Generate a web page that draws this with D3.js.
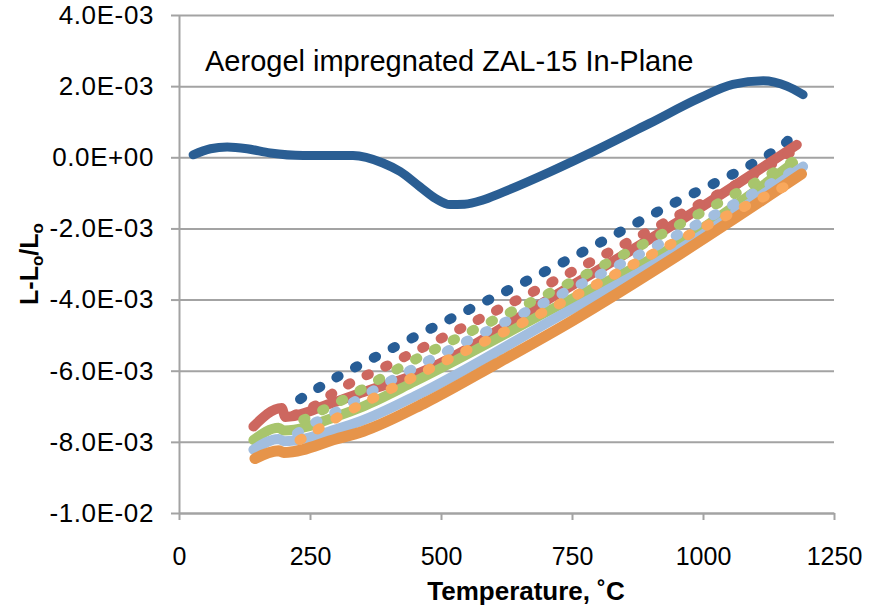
<!DOCTYPE html>
<html>
<head>
<meta charset="utf-8">
<script src="https://cdn.jsdelivr.net/npm/d3@7"></script>
<style>
  body { margin: 0; background: #fff; }
</style>
</head>
<body>
<div id="chart"></div>
<script>
var width = 885;
var height = 611;

// temperature in C, strain (L-Lo)/Lo in units of 1e-3
var firstHeat = [[27, 0.07], [60, 0.24], [92, 0.29], [130, 0.24], [174, 0.12], [237, 0.05], [332, 0.05],
    [389, -0.16], [422, -0.40], [460, -0.83], [490, -1.16], [517, -1.33], [545, -1.32], [580, -1.20],
    [612, -1.02], [708, -0.41], [803, 0.25], [899, 0.96], [994, 1.67], [1057, 2.05], [1115, 2.15],
    [1160, 2.0], [1191, 1.76]];
var blueDotted = [[231, -6.80], [293, -6.25], [399, -5.43], [746, -2.85], [943, -1.30], [1109, -0.06],
    [1144, 0.25], [1160, 0.44], [1186, 0.85]];
var redSolid = [[142, -7.57], [196, -7.05], [203, -7.30], [288, -6.93], [352, -6.60], [447, -6.13],
    [727, -3.80], [943, -1.90], [1179, 0.35]];
var redDotted = [[220, -7.25], [256, -7.01], [294, -6.63], [409, -5.77], [756, -3.17], [953, -1.63],
    [1118, -0.31], [1195, 0.39]];
var greenSolid = [[142, -7.95], [190, -7.60], [200, -7.68], [307, -7.25], [352, -7.00], [450, -6.30],
    [727, -4.15], [956, -2.40], [1172, -0.16]];
var greenDotted = [[237, -7.38], [279, -7.07], [301, -6.91], [412, -5.99], [765, -3.38], [924, -2.14],
    [1201, 0.13]];
var lightSolid = [[142, -8.22], [190, -7.92], [200, -7.98], [300, -7.65], [350, -7.40], [450, -6.72],
    [727, -4.45], [956, -2.58], [1191, -0.26]];
var lightDotted = [[225, -7.76], [244, -7.58], [285, -7.27], [393, -6.37], [737, -3.79], [934, -2.31],
    [1198, -0.17]];
var orangeSolid = [[145, -8.47], [190, -8.25], [200, -8.30], [300, -7.92], [352, -7.70], [470, -6.90],
    [606, -5.80], [750, -4.60], [956, -2.72], [1188, -0.47]];
var orangeDotted = [[230, -7.95], [249, -7.79], [291, -7.41], [399, -6.55], [746, -3.97], [943, -2.41],
    [1185, -0.61]];

var xTicks = [0, 250, 500, 750, 1000, 1250];
var yTicks = [-10, -8, -6, -4, -2, 0, 2, 4];
var yTickLabels = ["-1.0E-02", "-8.0E-03", "-6.0E-03", "-4.0E-03", "-2.0E-03", "0.0E+00", "2.0E-03", "4.0E-03"];

var font = "'Liberation Sans', Arial, sans-serif";
var gridColor = "#a3a3a3";

var svg = d3.select("#chart")
            .append("svg")
            .attr("width", width)
            .attr("height", height);

var x = d3.scaleLinear().domain([0, 1250]).range([179, 834]);
var y = d3.scaleLinear().domain([-10, 4]).range([513, 15]);

// horizontal gridlines
svg.append("g")
    .attr("transform", "translate(" + x(0) + ",0)")
    .call(d3.axisLeft(y).tickValues(yTicks).tickSize(-(x(1250) - x(0))).tickFormat(""))
    .call(g => g.select(".domain").remove())
    .call(g => g.selectAll("line").attr("stroke", gridColor).attr("stroke-width", 2));

// y axis
var yAxis = svg.append("g")
    .attr("transform", "translate(" + x(0) + ",0)")
    .call(d3.axisLeft(y).tickValues(yTicks).tickSize(8).tickSizeOuter(0).tickPadding(17)
            .tickFormat((d, i) => yTickLabels[i]));
yAxis.select(".domain").attr("stroke", gridColor).attr("stroke-width", 2);
yAxis.selectAll("line").attr("stroke", gridColor).attr("stroke-width", 2);
yAxis.selectAll("text")
    .style("font-family", font)
    .style("font-size", "26px")
    .style("letter-spacing", "0.6px")
    .attr("fill", "#000");

// x axis
var xAxis = svg.append("g")
    .attr("transform", "translate(0," + y(-10) + ")")
    .call(d3.axisBottom(x).tickValues(xTicks).tickSize(7).tickSizeOuter(0).tickFormat(d3.format("d")));
xAxis.select(".domain").attr("stroke", gridColor).attr("stroke-width", 2);
xAxis.selectAll("line").attr("stroke", gridColor).attr("stroke-width", 2);
xAxis.selectAll("text")
    .attr("y", 52)
    .attr("dy", null)
    .style("font-family", font)
    .style("font-size", "25px")
    .attr("fill", "#000");

var line = d3.line()
    .x(d => x(d[0]))
    .y(d => y(d[1]))
    .curve(d3.curveMonotoneX);

var series = [
    { data: firstHeat,    color: "#2a5e93", dotted: false, w: 9 },
    { data: blueDotted,   color: "#275d96", dotted: true,  w: 10 },
    { data: redSolid,     color: "#cd675f", dotted: false, w: 10 },
    { data: redDotted,    color: "#cd675f", dotted: true,  w: 10 },
    { data: greenSolid,   color: "#a8c56c", dotted: false, w: 10 },
    { data: greenDotted,  color: "#a8c56c", dotted: true,  w: 10 },
    { data: lightSolid,   color: "#a2bedf", dotted: false, w: 10 },
    { data: lightDotted,  color: "#a2bedf", dotted: true,  w: 10 },
    { data: orangeSolid,  color: "#e6944a", dotted: false, w: 11 },
    { data: orangeDotted, color: "#f9a85c", dotted: true,  w: 10 }
];

series.forEach(function(s) {
    var path = svg.append("path")
        .datum(s.data)
        .attr("d", line)
        .attr("fill", "none")
        .attr("stroke", s.color)
        .attr("stroke-width", s.w)
        .attr("stroke-linecap", "round")
        .attr("stroke-linejoin", "round");
    if (s.dotted) {
        // fit the dot period so the line ends on a dot
        var len = path.node().getTotalLength();
        var n = Math.max(1, Math.round(len / 21));
        var period = len / n;
        path.attr("stroke-dasharray", "2.5 " + (period - 2.5));
    }
});

// title inside the plot
svg.append("text")
    .attr("x", 205)
    .attr("y", 71)
    .text("Aerogel impregnated ZAL-15 In-Plane")
    .attr("fill", "#000")
    .style("font-family", font)
    .style("font-size", "29px");

// axis titles
svg.append("text")
    .attr("x", 526)
    .attr("y", 600)
    .style("text-anchor", "middle")
    .text("Temperature, \u02DAC")
    .attr("fill", "#000")
    .style("font-family", font)
    .style("font-weight", "bold")
    .style("font-size", "26px");

var yTitle = svg.append("text")
    .attr("transform", "translate(38," + ((y(4) + y(-10)) / 2) + ") rotate(-90)")
    .style("text-anchor", "middle")
    .attr("fill", "#000")
    .style("font-family", font)
    .style("font-weight", "bold")
    .style("font-size", "25px");
yTitle.append("tspan").text("L-L");
yTitle.append("tspan").attr("dy", 5).style("font-size", "17px").text("o");
yTitle.append("tspan").attr("dy", -5).text("/L");
yTitle.append("tspan").attr("dy", 5).style("font-size", "17px").text("o");
</script>
</body>
</html>
